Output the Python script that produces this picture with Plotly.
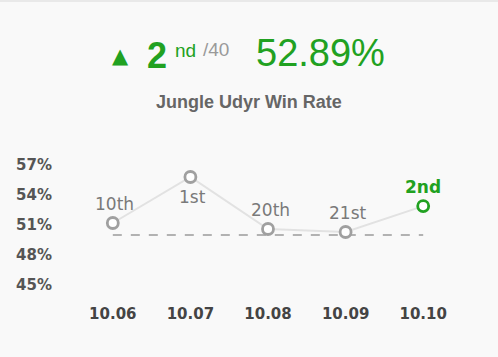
import plotly.graph_objects as go

patches = ["10.06", "10.07", "10.08", "10.09", "10.10"]
win_rates = [51.2, 55.8, 50.6, 50.3, 52.89]
rank_labels = ["10th", "1st", "20th", "21st", "2nd"]
label_below = [False, True, False, False, False]
average_rate = 50.0
y_ticks = [45, 48, 51, 54, 57]
y_tick_text = ["45%", "48%", "51%", "54%", "57%"]

GREEN = "#21a121"
GRAY_M = "#a0a0a0"
BG = "#f9f9f9"

W, H = 498, 357
L, R = 74.25, 461.75
T, B = 145, 298

def px(x):
    return (x - L) / (R - L)

def py(y):
    return (B - y) / (B - T)

fig = go.Figure()

# connecting line
fig.add_trace(go.Scatter(x=patches, y=win_rates, mode="lines",
                         line=dict(color="#e2e2e2", width=2), hoverinfo="skip"))
# average dashed line
fig.add_trace(go.Scatter(x=[patches[0], patches[-1]], y=[average_rate, average_rate],
                         mode="lines", line=dict(color="#9a9a9a", width=1.5, dash="dash"),
                         hoverinfo="skip"))
# gray markers
fig.add_trace(go.Scatter(x=patches[:-1], y=win_rates[:-1], mode="markers",
                         marker=dict(symbol="circle", size=11, color="white",
                                     line=dict(color=GRAY_M, width=2.8))))
# current patch marker
fig.add_trace(go.Scatter(x=patches[-1:], y=win_rates[-1:], mode="markers",
                         marker=dict(symbol="circle", size=11, color="white",
                                     line=dict(color=GREEN, width=2.8))))

ann = []
for i, (v, lab, below) in enumerate(zip(win_rates, rank_labels, label_below)):
    last = i == len(patches) - 1
    ann.append(dict(text=("<b>%s</b>" % lab) if last else lab, x=i, y=v,
                    xref="x", yref="y", showarrow=False,
                    xanchor="center", yanchor="middle",
                    xshift=0 if last else 2, yshift=-20 if below else 19,
                    font=dict(family="DejaVu Sans", size=17,
                              color=GREEN if last else "#7a7a7a")))

def add(text, x, y, size, color, bold=False, family="Liberation Sans, Arial"):
    ann.append(dict(text=("<b>%s</b>" % text) if bold else text,
                    xref="paper", yref="paper", x=px(x), y=py(y),
                    xanchor="center", yanchor="middle", showarrow=False,
                    font=dict(family=family, size=size, color=color)))

add("▲", 121, 56, 21, GREEN, family="DejaVu Sans")
add("2", 157, 55, 36, GREEN, bold=True)
add("nd", 186, 50, 19, GREEN)
add("/40", 216, 49, 19, "#9a9a9a")
add("52.89%", 320, 53, 38, GREEN)
add("Jungle Udyr Win Rate", 249, 102, 18, "#666666", bold=True)

fig.update_layout(
    width=W, height=H,
    margin=dict(l=L, r=W - R, t=T, b=H - B, pad=0),
    paper_bgcolor=BG, plot_bgcolor=BG,
    showlegend=False,
    annotations=ann,
    shapes=[dict(type="rect", xref="paper", yref="paper",
                 x0=px(0), x1=px(W), y0=py(2), y1=py(-2),
                 fillcolor="#e9e9e9", line=dict(width=0), layer="below")],
    xaxis=dict(type="category", range=[-0.5, 4.5], showgrid=False, zeroline=False,
               showline=False, ticks="", ticklabelstandoff=5,
               tickfont=dict(family="DejaVu Sans", size=15, color="#444444", weight="bold")),
    yaxis=dict(range=[43.7, 59], tickmode="array", tickvals=y_ticks, ticktext=y_tick_text,
               showgrid=False, zeroline=False, showline=False, ticks="",
               ticklabelstandoff=21,
               tickfont=dict(family="DejaVu Sans", size=15, color="#555555", weight="bold")),
)

fig.write_html("out.html")
